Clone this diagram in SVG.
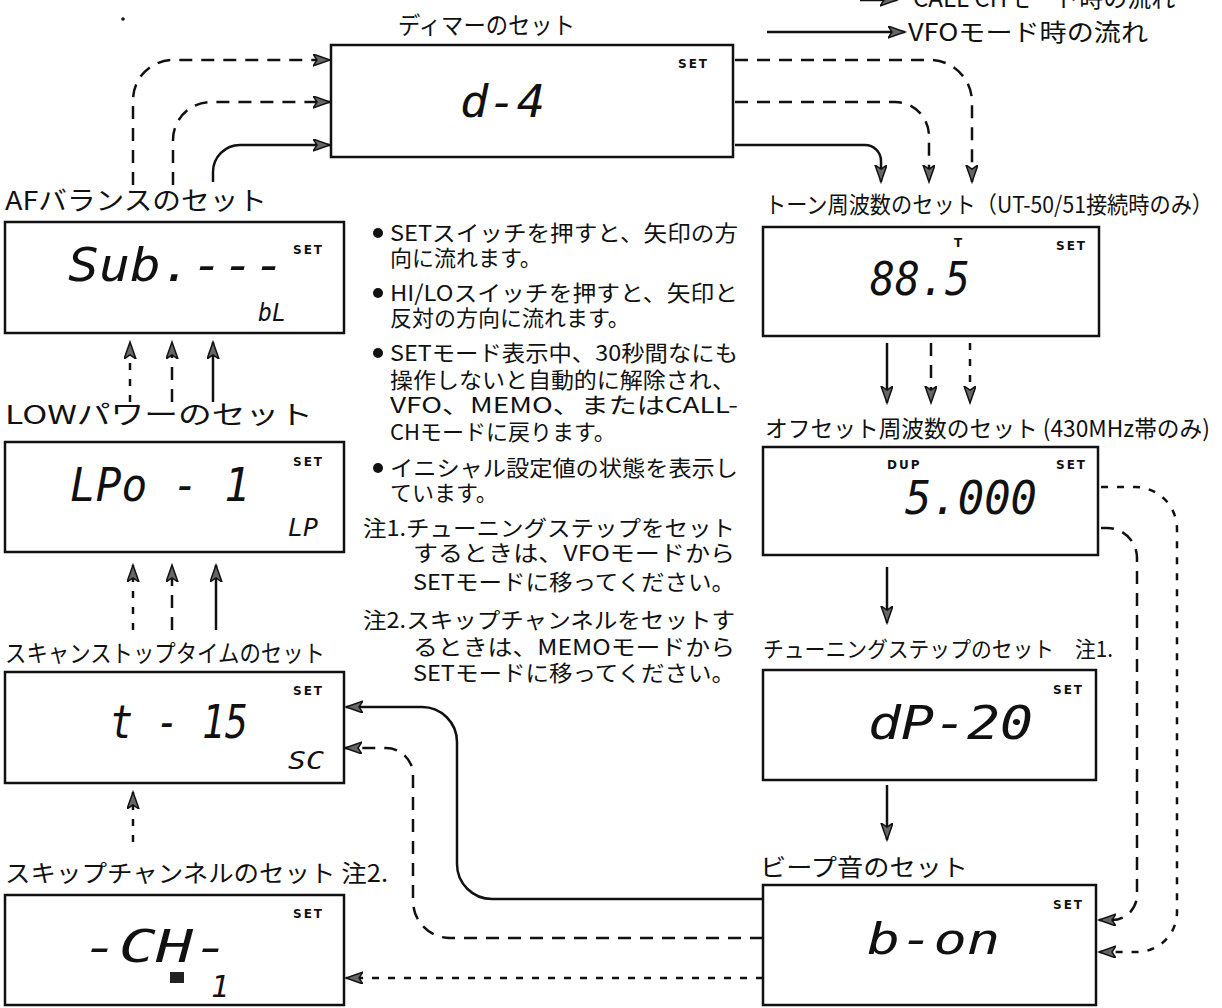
<svg xmlns="http://www.w3.org/2000/svg" width="1222" height="1008" viewBox="0 0 1222 1008">
<style>
.lbl{font-family:"Noto Sans CJK JP","Noto Sans",sans-serif;fill:#111}
.note{font-family:"Noto Sans CJK JP","Noto Sans",sans-serif;fill:#111;font-size:22px}
.box{fill:#fff;stroke:#111;stroke-width:2.5}
.lcd{font-family:"DejaVu Sans Mono",monospace;font-style:italic;fill:#111}
.set{font-family:"DejaVu Sans",sans-serif;font-weight:bold;font-size:12px;letter-spacing:2px;fill:#111}
.c{fill:none;stroke:#111;stroke-width:2.5}
.dash{stroke-dasharray:13 9}
.dot{stroke-dasharray:7 9}
</style>
<defs>
<marker id="ah" markerUnits="userSpaceOnUse" markerWidth="20" markerHeight="14" refX="17" refY="6" orient="auto">
<path d="M0,0 L17,6 L0,12 L4,6 Z" fill="#666" stroke="#111" stroke-width="1.5"/>
</marker>
</defs>

<g id="legend">
<path class="c" d="M860,0 L897,0" marker-end="url(#ah)"/>
<text class="lbl" x="913" y="7" font-size="24">CALL CHモード時の流れ</text>
<path class="c" d="M767,32 L905,32" marker-end="url(#ah)"/>
<text class="lbl" x="908" y="41" font-size="24" textLength="240" lengthAdjust="spacingAndGlyphs">VFOモード時の流れ</text>
<circle cx="123" cy="19" r="1.8" fill="#111"/>
</g>

<g id="connectors">
<path class="c dash" d="M133,185 L133,100 A40,40 0 0 1 173,60 L330,60" marker-end="url(#ah)"/>
<path class="c dash" d="M173,185 L173,140 A38,38 0 0 1 211,102 L330,102" marker-end="url(#ah)"/>
<path class="c" d="M213,182 L213,172 A27,27 0 0 1 240,145 L330,145" marker-end="url(#ah)"/>

<path class="c dash" d="M735,60 H930 A42,42 0 0 1 972,102 V182" marker-end="url(#ah)"/>
<path class="c dash" d="M735,102 H895 A34,34 0 0 1 929,136 V182" marker-end="url(#ah)"/>
<path class="c" d="M735,145 H865 A16,16 0 0 1 881,161 V182" marker-end="url(#ah)"/>

<path class="c" d="M887,343 V403" marker-end="url(#ah)"/>
<path class="c dash" d="M931,343 V403" marker-end="url(#ah)"/>
<path class="c dot" d="M970,343 V403" marker-end="url(#ah)"/>
<path class="c" d="M887,567 V623" marker-end="url(#ah)"/>
<path class="c" d="M887,785 V840" marker-end="url(#ah)"/>

<path class="c dot" d="M1101,487 H1135 A42,42 0 0 1 1177,529 V912 A40,40 0 0 1 1137,952 H1099" marker-end="url(#ah)"/>
<path class="c dash" d="M1101,528 H1107 A30,30 0 0 1 1137,558 V895 A25,25 0 0 1 1112,920 H1099" marker-end="url(#ah)"/>

<path class="c" d="M763,899 H492 A35,35 0 0 1 457,864 V742 A35,35 0 0 0 422,707 H346" marker-end="url(#ah)"/>
<path class="c dash" d="M763,938 H450 A37,37 0 0 1 413,901 V775 A27,27 0 0 0 386,748 H345" marker-end="url(#ah)"/>
<path class="c dot" d="M763,978 H346" marker-end="url(#ah)"/>

<path class="c dot" d="M130,402 V342" marker-end="url(#ah)"/>
<path class="c dash" d="M172,402 V342" marker-end="url(#ah)"/>
<path class="c" d="M213,402 V342" marker-end="url(#ah)"/>
<path class="c dot" d="M133,630 V565" marker-end="url(#ah)"/>
<path class="c dash" d="M172,630 V565" marker-end="url(#ah)"/>
<path class="c" d="M216,630 V565" marker-end="url(#ah)"/>
<path class="c dot" d="M133,842 V792" marker-end="url(#ah)"/>
</g>

<g id="node-dimmer">
<text class="lbl" x="398" y="34" font-size="24" textLength="177" lengthAdjust="spacingAndGlyphs">ディマーのセット</text>
<rect class="box" x="331" y="45" width="402" height="112"/>
<text class="set" x="678" y="68">SET</text>
<text class="lcd" x="460" y="117" font-size="44" textLength="85" lengthAdjust="spacingAndGlyphs">d-4</text>
</g>

<g id="node-af">
<text class="lbl" x="5" y="210" font-size="26" textLength="262" lengthAdjust="spacingAndGlyphs">AFバランスのセット</text>
<rect class="box" x="5" y="222" width="339" height="111"/>
<text class="set" x="293" y="254">SET</text>
<text class="lcd" x="68" y="281" font-size="46" textLength="217" lengthAdjust="spacingAndGlyphs">Sub.---</text>
<text class="lcd" x="258" y="321" font-size="24" textLength="28" lengthAdjust="spacingAndGlyphs">bL</text>
</g>

<g id="node-low">
<text class="lbl" x="5" y="424" font-size="26" textLength="308" lengthAdjust="spacingAndGlyphs">LOWパワーのセット</text>
<rect class="box" x="5" y="442" width="339" height="110"/>
<text class="set" x="293" y="466">SET</text>
<text class="lcd" x="70" y="501" font-size="46" textLength="180" lengthAdjust="spacingAndGlyphs">LPo - 1</text>
<text class="lcd" x="288" y="536" font-size="24" textLength="30" lengthAdjust="spacingAndGlyphs">LP</text>
</g>

<g id="node-scan">
<text class="lbl" x="5" y="662" font-size="24" textLength="320" lengthAdjust="spacingAndGlyphs">スキャンストップタイムのセット</text>
<rect class="box" x="5" y="672" width="339" height="111"/>
<text class="set" x="293" y="695">SET</text>
<text class="lcd" x="110" y="738" font-size="46" textLength="138" lengthAdjust="spacingAndGlyphs">t - 15</text>
<text class="lcd" x="288" y="769" font-size="24" textLength="36" lengthAdjust="spacingAndGlyphs">SC</text>
</g>

<g id="node-skip">
<text class="lbl" x="5" y="882" font-size="24" textLength="383" lengthAdjust="spacingAndGlyphs">スキップチャンネルのセット 注2.</text>
<rect class="box" x="5" y="895" width="339" height="110"/>
<text class="set" x="293" y="918">SET</text>
<text class="lcd" x="82" y="962" font-size="44" textLength="148" lengthAdjust="spacingAndGlyphs">-CH-</text>
<rect x="170" y="972" width="14" height="11" fill="#222"/>
<text class="lcd" x="211" y="997" font-size="30">1</text>
</g>

<g id="node-tone">
<text class="lbl" x="765" y="213" font-size="23" textLength="448" lengthAdjust="spacingAndGlyphs">トーン周波数のセット（UT-50/51接続時のみ）</text>
<rect class="box" x="763" y="227" width="336" height="109"/>
<text class="set" x="1056" y="250">SET</text>
<text class="set" x="954" y="247" letter-spacing="0">T</text>
<text class="lcd" x="870" y="295" font-size="46" textLength="100" lengthAdjust="spacingAndGlyphs">88.5</text>
</g>

<g id="node-offset">
<text class="lbl" x="765" y="437" font-size="23" textLength="445" lengthAdjust="spacingAndGlyphs">オフセット周波数のセット (430MHz帯のみ)</text>
<rect class="box" x="763" y="447" width="335" height="108"/>
<text class="set" x="887" y="469" letter-spacing="1">DUP</text>
<text class="set" x="1056" y="469">SET</text>
<text class="lcd" x="905" y="514" font-size="46" textLength="132" lengthAdjust="spacingAndGlyphs">5.000</text>
</g>

<g id="node-step">
<text class="lbl" x="763" y="657" font-size="22" textLength="350" lengthAdjust="spacingAndGlyphs">チューニングステップのセット　注1.</text>
<rect class="box" x="763" y="670" width="333" height="110"/>
<text class="set" x="1053" y="694">SET</text>
<text class="lcd" x="868" y="739" font-size="46" textLength="165" lengthAdjust="spacingAndGlyphs">dP-20</text>
</g>

<g id="node-beep">
<text class="lbl" x="760" y="876" font-size="24" textLength="208" lengthAdjust="spacingAndGlyphs">ビープ音のセット</text>
<rect class="box" x="763" y="885" width="333" height="120"/>
<text class="set" x="1053" y="909">SET</text>
<text class="lcd" x="867" y="954" font-size="42" textLength="133" lengthAdjust="spacingAndGlyphs">b-on</text>
</g>

<g id="notes">
<circle cx="378" cy="233" r="5" fill="#111"/>
<text class="note" x="390" y="241" textLength="348" lengthAdjust="spacingAndGlyphs">SETスイッチを押すと、矢印の方</text>
<text class="note" x="390" y="266">向に流れます。</text>
<circle cx="378" cy="293" r="5" fill="#111"/>
<text class="note" x="390" y="301" textLength="348" lengthAdjust="spacingAndGlyphs">HI/LOスイッチを押すと、矢印と</text>
<text class="note" x="390" y="326">反対の方向に流れます。</text>
<circle cx="378" cy="353" r="5" fill="#111"/>
<text class="note" x="390" y="361" textLength="348" lengthAdjust="spacingAndGlyphs">SETモード表示中、30秒間なにも</text>
<text class="note" x="390" y="388" textLength="345" lengthAdjust="spacingAndGlyphs">操作しないと自動的に解除され、</text>
<text class="note" x="390" y="413" textLength="348" lengthAdjust="spacingAndGlyphs">VFO、MEMO、またはCALL-</text>
<text class="note" x="390" y="440">CHモードに戻ります。</text>
<circle cx="378" cy="468" r="5" fill="#111"/>
<text class="note" x="390" y="476" textLength="348" lengthAdjust="spacingAndGlyphs">イニシャル設定値の状態を表示し</text>
<text class="note" x="390" y="501">ています。</text>
<text class="note" x="363" y="536" textLength="372" lengthAdjust="spacingAndGlyphs">注1.チューニングステップをセット</text>
<text class="note" x="413" y="561" textLength="322" lengthAdjust="spacingAndGlyphs">するときは、VFOモードから</text>
<text class="note" x="413" y="590" textLength="322" lengthAdjust="spacingAndGlyphs">SETモードに移ってください。</text>
<text class="note" x="363" y="628" textLength="372" lengthAdjust="spacingAndGlyphs">注2.スキップチャンネルをセットす</text>
<text class="note" x="413" y="655" textLength="322" lengthAdjust="spacingAndGlyphs">るときは、MEMOモードから</text>
<text class="note" x="413" y="681" textLength="322" lengthAdjust="spacingAndGlyphs">SETモードに移ってください。</text>
</g>
</svg>
